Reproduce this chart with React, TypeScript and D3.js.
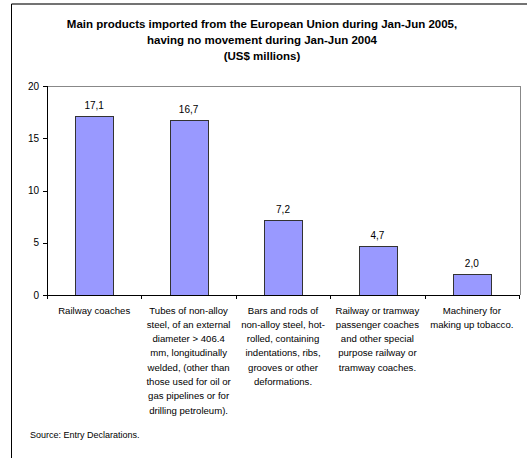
import React from "react";
import * as d3 from "d3";

const titleLines = [
  "Main products imported from the European Union during Jan-Jun 2005,",
  "having no movement during Jan-Jun 2004",
  "(US$ millions)",
];
const categories = ["c1", "c2", "c3", "c4", "c5"];
const categoryLines: string[][] = [
  ["Railway coaches"],
  [
    "Tubes of non-alloy",
    "steel, of an external",
    "diameter > 406.4",
    "mm, longitudinally",
    "welded, (other than",
    "those used for oil or",
    "gas pipelines or for",
    "drilling petroleum).",
  ],
  [
    "Bars and rods of",
    "non-alloy steel, hot-",
    "rolled, containing",
    "indentations, ribs,",
    "grooves or other",
    "deformations.",
  ],
  [
    "Railway or tramway",
    "passenger coaches",
    "and other special",
    "purpose railway or",
    "tramway coaches.",
  ],
  ["Machinery for", "making up tobacco."],
];
const values = [17.1, 16.7, 7.2, 4.7, 2.0];
const valueLabels = ["17,1", "16,7", "7,2", "4,7", "2,0"];
const yTicks = [0, 5, 10, 15, 20];
const sourceText = "Source: Entry Declarations.";

const W = 527;
const H = 458;
const font = "'Liberation Sans', Arial, sans-serif";

export default function App() {
  const x = d3
    .scaleBand<string>()
    .domain(categories)
    .range([47, 519])
    .paddingInner(0.6)
    .paddingOuter(0.3);
  const step = x.step();
  const y = d3.scaleLinear().domain([0, 20]).range([295, 86]);
  const x0 = 47;
  const x1 = 520;

  return (
    <svg
      width={W}
      height={H}
      style={{ position: "absolute", left: 0, top: 0, background: "#fff" }}
      fontFamily={font}
    >
      <rect x={0} y={0} width={W} height={H} fill="#fff" />
      {/* outer frame */}
      <line x1={11.5} y1={4} x2={W} y2={4} stroke="#444" strokeWidth={1.5} />
      <line x1={11.5} y1={4} x2={11.5} y2={H} stroke="#000" strokeWidth={1} />

      {/* title */}
      {titleLines.map((t, i) => (
        <text
          key={i}
          x={262}
          y={28 + i * 16}
          textAnchor="middle"
          fontSize={11.5}
          fontWeight="bold"
          fill="#000"
        >
          {t}
        </text>
      ))}

      {/* plot area border */}
      <line x1={x0} y1={y(20) + 0.5} x2={x1} y2={y(20) + 0.5} stroke="#888" />
      <line x1={x1 + 0.5} y1={y(20)} x2={x1 + 0.5} y2={y(0)} stroke="#888" />

      {/* bars */}
      {values.map((v, i) => {
        const c = categories[i];
        const bx = x(c)!;
        const by = y(v);
        return (
          <g key={c}>
            <rect
              x={Math.round(bx) + 0.5}
              y={Math.round(by) + 0.5}
              width={Math.round(x.bandwidth())}
              height={Math.round(y(0) - by)}
              fill="#9999FF"
              stroke="#333"
              strokeWidth={1}
            />
            <text
              x={bx + x.bandwidth() / 2}
              y={by - 7}
              textAnchor="middle"
              fontSize={10}
              fill="#000"
            >
              {valueLabels[i]}
            </text>
          </g>
        );
      })}

      {/* y axis */}
      <line x1={x0 + 0.5} y1={y(20)} x2={x0 + 0.5} y2={y(0)} stroke="#000" />
      {yTicks.map((t) => (
        <g key={t}>
          <line
            x1={x0 - 4}
            x2={x0}
            y1={Math.round(y(t)) + 0.5}
            y2={Math.round(y(t)) + 0.5}
            stroke="#000"
          />
          <text
            x={x0 - 8}
            y={y(t) + 3.5}
            textAnchor="end"
            fontSize={10}
            fill="#000"
          >
            {t}
          </text>
        </g>
      ))}

      {/* x axis */}
      <line x1={x0} y1={Math.round(y(0)) + 0.5} x2={x1} y2={Math.round(y(0)) + 0.5} stroke="#000" />
      {d3.range(categories.length + 1).map((i) => {
        const tx = Math.round(x0 + i * step) + 0.5;
        return (
          <line key={i} x1={tx} x2={tx} y1={y(0)} y2={y(0) + 4} stroke="#000" />
        );
      })}

      {/* category labels */}
      {categoryLines.map((lines, i) => (
        <text
          key={i}
          textAnchor="middle"
          fontSize={9.6}
          fill="#000"
        >
          {lines.map((l, j) => (
            <tspan key={j} x={x(categories[i])! + x.bandwidth() / 2} y={313.5 + j * 14.3}>
              {l}
            </tspan>
          ))}
        </text>
      ))}

      <text x={30} y={438} fontSize={9} fill="#000">
        {sourceText}
      </text>
    </svg>
  );
}
